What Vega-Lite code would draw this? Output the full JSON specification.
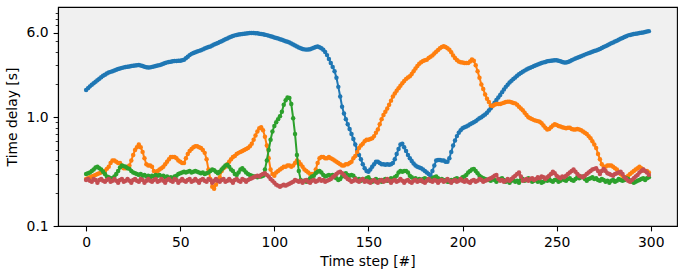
{
"$schema": "https://vega.github.io/schema/vega-lite/v6.json",
"width": 619, "height": 219,
"autosize": {"type": "none"},
"padding": {"left": 58, "top": 7, "right": 11, "bottom": 45},
"background": "white",
"config": {
 "view": {"fill": "#f0f0f0", "stroke": "black", "strokeWidth": 1.1},
 "axis": {"domainColor": "black", "domainWidth": 1.1, "tickColor": "black", "tickWidth": 1.1, "tickSize": 4.9, "labelFont": "DejaVu Sans", "labelFontSize": 13.9, "labelColor": "black", "titleFont": "DejaVu Sans", "titleFontSize": 13.9, "titleFontWeight": "normal", "titleColor": "black", "grid": false, "labelPadding": 4.9, "labelOverlap": false}
},
"data": {"values": [
{"t":0,"b":1.78,"o":0.27,"g":0.30,"r":0.265},
{"t":1,"b":1.85,"o":0.275,"g":0.305,"r":0.27},
{"t":2,"b":1.92,"o":0.28,"g":0.31,"r":0.26},
{"t":3,"b":1.99,"o":0.285,"g":0.32,"r":0.255},
{"t":4,"b":2.05,"o":0.29,"g":0.33,"r":0.27},
{"t":5,"b":2.12,"o":0.295,"g":0.345,"r":0.265},
{"t":6,"b":2.19,"o":0.30,"g":0.35,"r":0.25},
{"t":7,"b":2.26,"o":0.305,"g":0.34,"r":0.265},
{"t":8,"b":2.33,"o":0.31,"g":0.33,"r":0.27},
{"t":9,"b":2.40,"o":0.315,"g":0.315,"r":0.26},
{"t":10,"b":2.46,"o":0.32,"g":0.30,"r":0.255},
{"t":11,"b":2.52,"o":0.335,"g":0.285,"r":0.265},
{"t":12,"b":2.57,"o":0.35,"g":0.28,"r":0.27},
{"t":13,"b":2.61,"o":0.38,"g":0.275,"r":0.255},
{"t":14,"b":2.65,"o":0.40,"g":0.275,"r":0.26},
{"t":15,"b":2.69,"o":0.40,"g":0.285,"r":0.27},
{"t":16,"b":2.73,"o":0.39,"g":0.30,"r":0.26},
{"t":17,"b":2.77,"o":0.38,"g":0.32,"r":0.25},
{"t":18,"b":2.80,"o":0.38,"g":0.345,"r":0.265},
{"t":19,"b":2.84,"o":0.36,"g":0.36,"r":0.27},
{"t":20,"b":2.87,"o":0.34,"g":0.355,"r":0.255},
{"t":21,"b":2.89,"o":0.34,"g":0.35,"r":0.26},
{"t":22,"b":2.91,"o":0.35,"g":0.34,"r":0.27},
{"t":23,"b":2.93,"o":0.36,"g":0.335,"r":0.26},
{"t":24,"b":2.95,"o":0.40,"g":0.32,"r":0.25},
{"t":25,"b":2.97,"o":0.45,"g":0.31,"r":0.265},
{"t":26,"b":2.98,"o":0.50,"g":0.305,"r":0.27},
{"t":27,"b":3.00,"o":0.53,"g":0.30,"r":0.26},
{"t":28,"b":3.02,"o":0.56,"g":0.295,"r":0.255},
{"t":29,"b":2.99,"o":0.53,"g":0.30,"r":0.27},
{"t":30,"b":2.95,"o":0.48,"g":0.29,"r":0.265},
{"t":31,"b":2.91,"o":0.42,"g":0.295,"r":0.25},
{"t":32,"b":2.88,"o":0.37,"g":0.285,"r":0.26},
{"t":33,"b":2.86,"o":0.36,"g":0.29,"r":0.27},
{"t":34,"b":2.87,"o":0.36,"g":0.28,"r":0.26},
{"t":35,"b":2.90,"o":0.35,"g":0.29,"r":0.255},
{"t":36,"b":2.92,"o":0.32,"g":0.285,"r":0.265},
{"t":37,"b":2.95,"o":0.31,"g":0.295,"r":0.27},
{"t":38,"b":2.98,"o":0.32,"g":0.29,"r":0.255},
{"t":39,"b":3.01,"o":0.33,"g":0.295,"r":0.26},
{"t":40,"b":3.05,"o":0.34,"g":0.285,"r":0.27},
{"t":41,"b":3.10,"o":0.35,"g":0.29,"r":0.26},
{"t":42,"b":3.15,"o":0.37,"g":0.28,"r":0.25},
{"t":43,"b":3.19,"o":0.39,"g":0.285,"r":0.265},
{"t":44,"b":3.21,"o":0.41,"g":0.275,"r":0.27},
{"t":45,"b":3.24,"o":0.43,"g":0.28,"r":0.26},
{"t":46,"b":3.26,"o":0.43,"g":0.275,"r":0.255},
{"t":47,"b":3.28,"o":0.43,"g":0.285,"r":0.27},
{"t":48,"b":3.29,"o":0.42,"g":0.29,"r":0.265},
{"t":49,"b":3.30,"o":0.40,"g":0.30,"r":0.25},
{"t":50,"b":3.31,"o":0.39,"g":0.305,"r":0.26},
{"t":51,"b":3.33,"o":0.38,"g":0.31,"r":0.27},
{"t":52,"b":3.38,"o":0.38,"g":0.315,"r":0.26},
{"t":53,"b":3.48,"o":0.42,"g":0.31,"r":0.255},
{"t":54,"b":3.60,"o":0.46,"g":0.315,"r":0.265},
{"t":55,"b":3.72,"o":0.49,"g":0.32,"r":0.27},
{"t":56,"b":3.82,"o":0.51,"g":0.31,"r":0.255},
{"t":57,"b":3.90,"o":0.53,"g":0.315,"r":0.26},
{"t":58,"b":3.96,"o":0.54,"g":0.32,"r":0.27},
{"t":59,"b":4.02,"o":0.54,"g":0.315,"r":0.26},
{"t":60,"b":4.07,"o":0.53,"g":0.31,"r":0.25},
{"t":61,"b":4.13,"o":0.52,"g":0.305,"r":0.265},
{"t":62,"b":4.20,"o":0.50,"g":0.31,"r":0.27},
{"t":63,"b":4.28,"o":0.47,"g":0.30,"r":0.26},
{"t":64,"b":4.35,"o":0.41,"g":0.305,"r":0.255},
{"t":65,"b":4.41,"o":0.33,"g":0.31,"r":0.27},
{"t":66,"b":4.46,"o":0.27,"g":0.32,"r":0.265},
{"t":67,"b":4.55,"o":0.23,"g":0.33,"r":0.25},
{"t":68,"b":4.65,"o":0.22,"g":0.325,"r":0.26},
{"t":69,"b":4.73,"o":0.24,"g":0.315,"r":0.27},
{"t":70,"b":4.80,"o":0.26,"g":0.305,"r":0.26},
{"t":71,"b":4.90,"o":0.28,"g":0.315,"r":0.255},
{"t":72,"b":5.00,"o":0.32,"g":0.33,"r":0.265},
{"t":73,"b":5.10,"o":0.34,"g":0.345,"r":0.27},
{"t":74,"b":5.20,"o":0.35,"g":0.36,"r":0.255},
{"t":75,"b":5.30,"o":0.37,"g":0.365,"r":0.26},
{"t":76,"b":5.40,"o":0.39,"g":0.35,"r":0.27},
{"t":77,"b":5.50,"o":0.41,"g":0.33,"r":0.26},
{"t":78,"b":5.58,"o":0.43,"g":0.32,"r":0.25},
{"t":79,"b":5.65,"o":0.44,"g":0.30,"r":0.265},
{"t":80,"b":5.70,"o":0.46,"g":0.295,"r":0.27},
{"t":81,"b":5.75,"o":0.47,"g":0.31,"r":0.26},
{"t":82,"b":5.79,"o":0.48,"g":0.33,"r":0.255},
{"t":83,"b":5.83,"o":0.49,"g":0.34,"r":0.27},
{"t":84,"b":5.86,"o":0.50,"g":0.325,"r":0.265},
{"t":85,"b":5.89,"o":0.51,"g":0.31,"r":0.255},
{"t":86,"b":5.92,"o":0.52,"g":0.30,"r":0.265},
{"t":87,"b":5.94,"o":0.54,"g":0.295,"r":0.27},
{"t":88,"b":5.95,"o":0.57,"g":0.29,"r":0.275},
{"t":89,"b":5.94,"o":0.62,"g":0.285,"r":0.28},
{"t":90,"b":5.92,"o":0.68,"g":0.285,"r":0.285},
{"t":91,"b":5.90,"o":0.74,"g":0.28,"r":0.29},
{"t":92,"b":5.86,"o":0.79,"g":0.285,"r":0.285},
{"t":93,"b":5.82,"o":0.81,"g":0.285,"r":0.295},
{"t":94,"b":5.78,"o":0.76,"g":0.29,"r":0.30},
{"t":95,"b":5.73,"o":0.66,"g":0.33,"r":0.305},
{"t":96,"b":5.68,"o":0.55,"g":0.40,"r":0.295},
{"t":97,"b":5.62,"o":0.42,"g":0.50,"r":0.285},
{"t":98,"b":5.55,"o":0.33,"g":0.62,"r":0.27},
{"t":99,"b":5.48,"o":0.30,"g":0.74,"r":0.26},
{"t":100,"b":5.41,"o":0.29,"g":0.83,"r":0.25},
{"t":101,"b":5.35,"o":0.31,"g":0.90,"r":0.24},
{"t":102,"b":5.28,"o":0.32,"g":0.96,"r":0.235},
{"t":103,"b":5.21,"o":0.33,"g":1.02,"r":0.23},
{"t":104,"b":5.14,"o":0.34,"g":1.12,"r":0.235},
{"t":105,"b":5.07,"o":0.35,"g":1.30,"r":0.24},
{"t":106,"b":5.00,"o":0.35,"g":1.43,"r":0.235},
{"t":107,"b":4.93,"o":0.36,"g":1.52,"r":0.24},
{"t":108,"b":4.85,"o":0.36,"g":1.50,"r":0.245},
{"t":109,"b":4.76,"o":0.35,"g":1.32,"r":0.25},
{"t":110,"b":4.66,"o":0.36,"g":0.98,"r":0.255},
{"t":111,"b":4.57,"o":0.38,"g":0.70,"r":0.265},
{"t":112,"b":4.47,"o":0.40,"g":0.45,"r":0.26},
{"t":113,"b":4.38,"o":0.39,"g":0.32,"r":0.255},
{"t":114,"b":4.30,"o":0.37,"g":0.265,"r":0.26},
{"t":115,"b":4.24,"o":0.35,"g":0.255,"r":0.25},
{"t":116,"b":4.20,"o":0.33,"g":0.26,"r":0.26},
{"t":117,"b":4.18,"o":0.32,"g":0.255,"r":0.265},
{"t":118,"b":4.19,"o":0.31,"g":0.265,"r":0.255},
{"t":119,"b":4.22,"o":0.30,"g":0.275,"r":0.25},
{"t":120,"b":4.28,"o":0.30,"g":0.285,"r":0.26},
{"t":121,"b":4.35,"o":0.30,"g":0.29,"r":0.265},
{"t":122,"b":4.42,"o":0.33,"g":0.305,"r":0.255},
{"t":123,"b":4.46,"o":0.38,"g":0.315,"r":0.26},
{"t":124,"b":4.40,"o":0.42,"g":0.32,"r":0.27},
{"t":125,"b":4.30,"o":0.43,"g":0.31,"r":0.26},
{"t":126,"b":4.16,"o":0.43,"g":0.295,"r":0.265},
{"t":127,"b":3.98,"o":0.42,"g":0.285,"r":0.255},
{"t":128,"b":3.72,"o":0.42,"g":0.29,"r":0.26},
{"t":129,"b":3.42,"o":0.43,"g":0.295,"r":0.265},
{"t":130,"b":3.15,"o":0.42,"g":0.29,"r":0.27},
{"t":131,"b":2.90,"o":0.41,"g":0.295,"r":0.28},
{"t":132,"b":2.65,"o":0.40,"g":0.28,"r":0.29},
{"t":133,"b":2.30,"o":0.39,"g":0.275,"r":0.30},
{"t":134,"b":1.90,"o":0.38,"g":0.265,"r":0.31},
{"t":135,"b":1.55,"o":0.37,"g":0.27,"r":0.315},
{"t":136,"b":1.25,"o":0.36,"g":0.285,"r":0.305},
{"t":137,"b":1.08,"o":0.36,"g":0.30,"r":0.295},
{"t":138,"b":0.96,"o":0.37,"g":0.305,"r":0.28},
{"t":139,"b":0.86,"o":0.37,"g":0.295,"r":0.27},
{"t":140,"b":0.78,"o":0.38,"g":0.29,"r":0.265},
{"t":141,"b":0.70,"o":0.39,"g":0.295,"r":0.255},
{"t":142,"b":0.63,"o":0.42,"g":0.29,"r":0.26},
{"t":143,"b":0.56,"o":0.44,"g":0.275,"r":0.27},
{"t":144,"b":0.50,"o":0.48,"g":0.265,"r":0.26},
{"t":145,"b":0.45,"o":0.52,"g":0.27,"r":0.255},
{"t":146,"b":0.41,"o":0.55,"g":0.26,"r":0.265},
{"t":147,"b":0.37,"o":0.57,"g":0.27,"r":0.27},
{"t":148,"b":0.34,"o":0.60,"g":0.265,"r":0.255},
{"t":149,"b":0.32,"o":0.62,"g":0.275,"r":0.26},
{"t":150,"b":0.315,"o":0.62,"g":0.28,"r":0.255},
{"t":151,"b":0.33,"o":0.63,"g":0.265,"r":0.25},
{"t":152,"b":0.35,"o":0.64,"g":0.255,"r":0.26},
{"t":153,"b":0.37,"o":0.67,"g":0.26,"r":0.265},
{"t":154,"b":0.39,"o":0.72,"g":0.27,"r":0.255},
{"t":155,"b":0.39,"o":0.77,"g":0.26,"r":0.25},
{"t":156,"b":0.38,"o":0.86,"g":0.265,"r":0.26},
{"t":157,"b":0.37,"o":0.96,"g":0.255,"r":0.265},
{"t":158,"b":0.37,"o":1.05,"g":0.265,"r":0.255},
{"t":159,"b":0.365,"o":1.12,"g":0.27,"r":0.26},
{"t":160,"b":0.37,"o":1.20,"g":0.26,"r":0.27},
{"t":161,"b":0.365,"o":1.30,"g":0.265,"r":0.26},
{"t":162,"b":0.37,"o":1.42,"g":0.275,"r":0.25},
{"t":163,"b":0.38,"o":1.55,"g":0.27,"r":0.26},
{"t":164,"b":0.41,"o":1.65,"g":0.28,"r":0.265},
{"t":165,"b":0.46,"o":1.75,"g":0.29,"r":0.255},
{"t":166,"b":0.51,"o":1.85,"g":0.31,"r":0.26},
{"t":167,"b":0.56,"o":1.95,"g":0.32,"r":0.27},
{"t":168,"b":0.57,"o":2.05,"g":0.315,"r":0.26},
{"t":169,"b":0.53,"o":2.15,"g":0.32,"r":0.25},
{"t":170,"b":0.49,"o":2.25,"g":0.32,"r":0.26},
{"t":171,"b":0.45,"o":2.32,"g":0.31,"r":0.265},
{"t":172,"b":0.42,"o":2.38,"g":0.29,"r":0.255},
{"t":173,"b":0.395,"o":2.50,"g":0.28,"r":0.25},
{"t":174,"b":0.375,"o":2.65,"g":0.27,"r":0.26},
{"t":175,"b":0.36,"o":2.80,"g":0.275,"r":0.265},
{"t":176,"b":0.35,"o":2.95,"g":0.265,"r":0.255},
{"t":177,"b":0.345,"o":3.10,"g":0.27,"r":0.26},
{"t":178,"b":0.34,"o":3.20,"g":0.26,"r":0.265},
{"t":179,"b":0.33,"o":3.28,"g":0.27,"r":0.255},
{"t":180,"b":0.32,"o":3.33,"g":0.275,"r":0.25},
{"t":181,"b":0.31,"o":3.38,"g":0.265,"r":0.26},
{"t":182,"b":0.30,"o":3.50,"g":0.27,"r":0.27},
{"t":183,"b":0.29,"o":3.60,"g":0.26,"r":0.26},
{"t":184,"b":0.32,"o":3.70,"g":0.275,"r":0.255},
{"t":185,"b":0.36,"o":3.85,"g":0.28,"r":0.265},
{"t":186,"b":0.40,"o":4.00,"g":0.285,"r":0.26},
{"t":187,"b":0.405,"o":4.15,"g":0.275,"r":0.25},
{"t":188,"b":0.405,"o":4.30,"g":0.265,"r":0.26},
{"t":189,"b":0.40,"o":4.42,"g":0.27,"r":0.265},
{"t":190,"b":0.40,"o":4.48,"g":0.26,"r":0.255},
{"t":191,"b":0.39,"o":4.42,"g":0.265,"r":0.26},
{"t":192,"b":0.39,"o":4.30,"g":0.255,"r":0.27},
{"t":193,"b":0.42,"o":4.16,"g":0.255,"r":0.26},
{"t":194,"b":0.48,"o":3.95,"g":0.265,"r":0.25},
{"t":195,"b":0.55,"o":3.70,"g":0.26,"r":0.26},
{"t":196,"b":0.61,"o":3.50,"g":0.27,"r":0.265},
{"t":197,"b":0.67,"o":3.35,"g":0.275,"r":0.255},
{"t":198,"b":0.72,"o":3.25,"g":0.265,"r":0.26},
{"t":199,"b":0.76,"o":3.20,"g":0.27,"r":0.27},
{"t":200,"b":0.79,"o":3.18,"g":0.28,"r":0.26},
{"t":201,"b":0.81,"o":3.15,"g":0.285,"r":0.255},
{"t":202,"b":0.82,"o":3.15,"g":0.295,"r":0.265},
{"t":203,"b":0.84,"o":3.15,"g":0.31,"r":0.255},
{"t":204,"b":0.86,"o":3.25,"g":0.32,"r":0.25},
{"t":205,"b":0.88,"o":3.40,"g":0.33,"r":0.26},
{"t":206,"b":0.90,"o":3.30,"g":0.335,"r":0.265},
{"t":207,"b":0.92,"o":3.00,"g":0.32,"r":0.255},
{"t":208,"b":0.95,"o":2.65,"g":0.305,"r":0.26},
{"t":209,"b":0.98,"o":2.30,"g":0.29,"r":0.27},
{"t":210,"b":1.00,"o":2.00,"g":0.28,"r":0.265},
{"t":211,"b":1.03,"o":1.82,"g":0.275,"r":0.255},
{"t":212,"b":1.06,"o":1.62,"g":0.27,"r":0.26},
{"t":213,"b":1.10,"o":1.48,"g":0.265,"r":0.265},
{"t":214,"b":1.15,"o":1.38,"g":0.265,"r":0.27},
{"t":215,"b":1.21,"o":1.28,"g":0.26,"r":0.275},
{"t":216,"b":1.28,"o":1.27,"g":0.27,"r":0.28},
{"t":217,"b":1.36,"o":1.30,"g":0.265,"r":0.29},
{"t":218,"b":1.44,"o":1.32,"g":0.255,"r":0.295},
{"t":219,"b":1.52,"o":1.32,"g":0.265,"r":0.27},
{"t":220,"b":1.60,"o":1.32,"g":0.27,"r":0.26},
{"t":221,"b":1.70,"o":1.34,"g":0.275,"r":0.265},
{"t":222,"b":1.80,"o":1.36,"g":0.265,"r":0.255},
{"t":223,"b":1.90,"o":1.38,"g":0.255,"r":0.26},
{"t":224,"b":1.99,"o":1.39,"g":0.26,"r":0.27},
{"t":225,"b":2.08,"o":1.39,"g":0.25,"r":0.26},
{"t":226,"b":2.16,"o":1.37,"g":0.26,"r":0.27},
{"t":227,"b":2.24,"o":1.35,"g":0.265,"r":0.28},
{"t":228,"b":2.32,"o":1.34,"g":0.255,"r":0.29},
{"t":229,"b":2.40,"o":1.30,"g":0.26,"r":0.30},
{"t":230,"b":2.48,"o":1.25,"g":0.25,"r":0.31},
{"t":231,"b":2.55,"o":1.20,"g":0.265,"r":0.285},
{"t":232,"b":2.62,"o":1.16,"g":0.27,"r":0.26},
{"t":233,"b":2.68,"o":1.10,"g":0.26,"r":0.265},
{"t":234,"b":2.74,"o":1.05,"g":0.265,"r":0.27},
{"t":235,"b":2.80,"o":1.00,"g":0.275,"r":0.26},
{"t":236,"b":2.85,"o":0.98,"g":0.265,"r":0.27},
{"t":237,"b":2.90,"o":0.96,"g":0.255,"r":0.275},
{"t":238,"b":2.95,"o":0.94,"g":0.26,"r":0.265},
{"t":239,"b":3.00,"o":0.93,"g":0.265,"r":0.27},
{"t":240,"b":3.05,"o":0.92,"g":0.255,"r":0.28},
{"t":241,"b":3.10,"o":0.91,"g":0.26,"r":0.275},
{"t":242,"b":3.15,"o":0.88,"g":0.25,"r":0.285},
{"t":243,"b":3.19,"o":0.84,"g":0.255,"r":0.28},
{"t":244,"b":3.22,"o":0.80,"g":0.265,"r":0.27},
{"t":245,"b":3.26,"o":0.77,"g":0.26,"r":0.28},
{"t":246,"b":3.29,"o":0.78,"g":0.27,"r":0.29},
{"t":247,"b":3.31,"o":0.81,"g":0.26,"r":0.30},
{"t":248,"b":3.32,"o":0.84,"g":0.255,"r":0.315},
{"t":249,"b":3.33,"o":0.86,"g":0.265,"r":0.305},
{"t":250,"b":3.33,"o":0.85,"g":0.265,"r":0.29},
{"t":251,"b":3.30,"o":0.83,"g":0.255,"r":0.28},
{"t":252,"b":3.26,"o":0.82,"g":0.26,"r":0.275},
{"t":253,"b":3.21,"o":0.81,"g":0.27,"r":0.285},
{"t":254,"b":3.18,"o":0.80,"g":0.265,"r":0.28},
{"t":255,"b":3.18,"o":0.79,"g":0.26,"r":0.29},
{"t":256,"b":3.21,"o":0.80,"g":0.27,"r":0.30},
{"t":257,"b":3.27,"o":0.80,"g":0.275,"r":0.31},
{"t":258,"b":3.33,"o":0.78,"g":0.265,"r":0.32},
{"t":259,"b":3.40,"o":0.77,"g":0.26,"r":0.33},
{"t":260,"b":3.46,"o":0.77,"g":0.27,"r":0.315},
{"t":261,"b":3.52,"o":0.78,"g":0.28,"r":0.30},
{"t":262,"b":3.58,"o":0.77,"g":0.275,"r":0.29},
{"t":263,"b":3.64,"o":0.76,"g":0.28,"r":0.285},
{"t":264,"b":3.70,"o":0.74,"g":0.285,"r":0.28},
{"t":265,"b":3.76,"o":0.72,"g":0.27,"r":0.29},
{"t":266,"b":3.82,"o":0.70,"g":0.26,"r":0.30},
{"t":267,"b":3.88,"o":0.67,"g":0.27,"r":0.31},
{"t":268,"b":3.94,"o":0.64,"g":0.275,"r":0.32},
{"t":269,"b":4.00,"o":0.60,"g":0.28,"r":0.33},
{"t":270,"b":4.05,"o":0.56,"g":0.27,"r":0.335},
{"t":271,"b":4.10,"o":0.52,"g":0.275,"r":0.34},
{"t":272,"b":4.16,"o":0.46,"g":0.265,"r":0.32},
{"t":273,"b":4.24,"o":0.41,"g":0.26,"r":0.30},
{"t":274,"b":4.32,"o":0.37,"g":0.27,"r":0.32},
{"t":275,"b":4.41,"o":0.35,"g":0.265,"r":0.335},
{"t":276,"b":4.50,"o":0.35,"g":0.255,"r":0.32},
{"t":277,"b":4.59,"o":0.36,"g":0.26,"r":0.305},
{"t":278,"b":4.68,"o":0.36,"g":0.25,"r":0.30},
{"t":279,"b":4.78,"o":0.36,"g":0.26,"r":0.295},
{"t":280,"b":4.87,"o":0.35,"g":0.265,"r":0.29},
{"t":281,"b":4.96,"o":0.34,"g":0.255,"r":0.30},
{"t":282,"b":5.05,"o":0.33,"g":0.26,"r":0.305},
{"t":283,"b":5.15,"o":0.31,"g":0.27,"r":0.31},
{"t":284,"b":5.25,"o":0.30,"g":0.265,"r":0.315},
{"t":285,"b":5.35,"o":0.29,"g":0.26,"r":0.30},
{"t":286,"b":5.45,"o":0.28,"g":0.265,"r":0.28},
{"t":287,"b":5.55,"o":0.28,"g":0.275,"r":0.27},
{"t":288,"b":5.65,"o":0.29,"g":0.27,"r":0.26},
{"t":289,"b":5.70,"o":0.30,"g":0.26,"r":0.255},
{"t":290,"b":5.76,"o":0.31,"g":0.255,"r":0.265},
{"t":291,"b":5.81,"o":0.32,"g":0.25,"r":0.275},
{"t":292,"b":5.85,"o":0.33,"g":0.255,"r":0.285},
{"t":293,"b":5.89,"o":0.34,"g":0.26,"r":0.295},
{"t":294,"b":5.93,"o":0.35,"g":0.265,"r":0.31},
{"t":295,"b":5.97,"o":0.34,"g":0.27,"r":0.32},
{"t":296,"b":6.01,"o":0.33,"g":0.275,"r":0.33},
{"t":297,"b":6.06,"o":0.32,"g":0.265,"r":0.32},
{"t":298,"b":6.12,"o":0.32,"g":0.275,"r":0.31},
{"t":299,"b":6.18,"o":0.31,"g":0.28,"r":0.295}
]},
"encoding": {
 "x": {"field": "t", "type": "quantitative", "scale": {"domain": [-14.95, 313.95], "nice": false, "zero": false}, "axis": {"values": [0, 50, 100, 150, 200, 250, 300], "title": "Time step [#]", "titlePadding": 5, "labelFlush": false}}
},
"layer": [
 {"mark": {"type": "line", "color": "#1f77b4", "strokeWidth": 2, "point": {"filled": true, "size": 20, "color": "#1f77b4"}},
  "encoding": {"y": {"field": "b", "type": "quantitative", "scale": {"type": "log", "domain": [0.1, 10.3], "nice": false}, "axis": {"title": "Time delay [s]", "titlePadding": 7, "values": [0.1, 0.2, 0.3, 0.4, 0.5, 0.6, 0.7, 0.8, 0.9, 1, 2, 3, 4, 5, 6, 7, 8, 9], "labelExpr": "(datum.value == 0.1 || datum.value == 1 || datum.value == 6) ? format(datum.value, '.1f') : ''", "tickSize": {"condition": {"test": "datum.value == 0.1 || datum.value == 1 || datum.value == 6", "value": 4.9}, "value": 2.8}, "tickWidth": {"condition": {"test": "datum.value == 0.1 || datum.value == 1 || datum.value == 6", "value": 1.1}, "value": 0.8}}}}},
 {"mark": {"type": "line", "color": "#ff7f0e", "strokeWidth": 2, "point": {"filled": true, "size": 20, "color": "#ff7f0e"}},
  "encoding": {"y": {"field": "o", "type": "quantitative", "scale": {"type": "log", "domain": [0.1, 10.3], "nice": false}, "axis": {"title": "Time delay [s]"}}}},
 {"mark": {"type": "line", "color": "#2ca02c", "strokeWidth": 2, "point": {"filled": true, "size": 20, "color": "#2ca02c"}},
  "encoding": {"y": {"field": "g", "type": "quantitative", "scale": {"type": "log", "domain": [0.1, 10.3], "nice": false}, "axis": {"title": "Time delay [s]"}}}},
 {"mark": {"type": "line", "color": "#c44e52", "strokeWidth": 2, "point": {"filled": true, "size": 20, "color": "#c44e52"}},
  "encoding": {"y": {"field": "r", "type": "quantitative", "scale": {"type": "log", "domain": [0.1, 10.3], "nice": false}, "axis": {"title": "Time delay [s]"}}}}
]
}
